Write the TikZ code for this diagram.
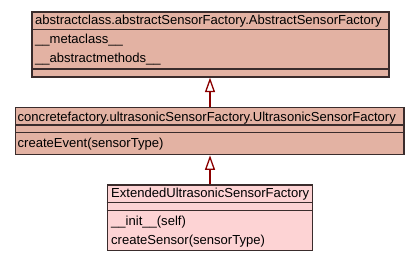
\documentclass[tikz,border=0pt]{standalone}
\usepackage{fontspec}
\setmainfont{Liberation Sans}
\usetikzlibrary{arrows.meta}
\definecolor{classfill}{RGB}{227,178,163}
\definecolor{leaffill}{RGB}{253,211,212}
\definecolor{classline}{RGB}{58,44,44}
\definecolor{genline}{RGB}{139,0,0}
\tikzset{
  umlbox/.style={draw=classline, line width=1.3pt, inner sep=0pt, rectangle},
  divider/.style={draw=classline, line width=1.3pt},
  lbl/.style={inner sep=0pt, anchor=base west, font=\fontsize{13.05}{15}\selectfont, text=black},
  inherit/.style={draw=genline, line width=2.8pt,
    -{Triangle[length=14.5pt, width=10pt, fill=white, line width=1.3pt]}},
}
\begin{document}
\begin{tikzpicture}[x=1pt, y=-1pt]
\useasboundingbox[fill=white] (0,0) rectangle (419,261);

% abstract factory class
\node[umlbox, fill=classfill, minimum width=357pt, minimum height=65pt] (abs) at (210.5,44.5) {};
\draw[divider] (abs.west |- 0,29.5) -- (abs.east |- 0,29.5);
\draw[divider] (abs.west |- 0,69) -- (abs.east |- 0,69);
\node[lbl] (absname) at (35,24.5) {abstractclass.abstractSensorFactory.AbstractSensorFactory};
\node[lbl] (absmeta) at (35,43.5) {\_\_metaclass\_\_};
\node[lbl] (absabst) at (35,62.5) {\_\_abstractmethods\_\_};

% concrete ultrasonic factory class
\node[umlbox, fill=classfill, minimum width=388.3pt, minimum height=47pt] (conc) at (209.85,131.2) {};
\draw[divider] (conc.west |- 0,125) -- (conc.east |- 0,125);
\draw[divider] (conc.west |- 0,132.7) -- (conc.east |- 0,132.7);
\node[lbl] (concname) at (17.5,121.2) {concretefactory.ultrasonicSensorFactory.UltrasonicSensorFactory};
\node[lbl] (concev) at (17.5,147.8) {createEvent(sensorType)};

% extended factory class
\node[umlbox, fill=leaffill, minimum width=205pt, minimum height=65.7pt] (ext) at (209.8,217.85) {};
\draw[divider] (ext.west |- 0,202.3) -- (ext.east |- 0,202.3);
\draw[divider] (ext.west |- 0,210.7) -- (ext.east |- 0,210.7);
\node[lbl] (extname) at (111,197.8) {ExtendedUltrasonicSensorFactory};
\node[lbl] (extinit) at (111,225.2) {\_\_init\_\_(self)};
\node[lbl] (extcs) at (111,244.5) {createSensor(sensorType)};

% generalisation edges
\draw[inherit] (conc.north -| 210,0) -- (abs.south -| 210,0);
\draw[inherit] (ext.north -| 210,0) -- (conc.south -| 210,0);
\end{tikzpicture}
\end{document}
